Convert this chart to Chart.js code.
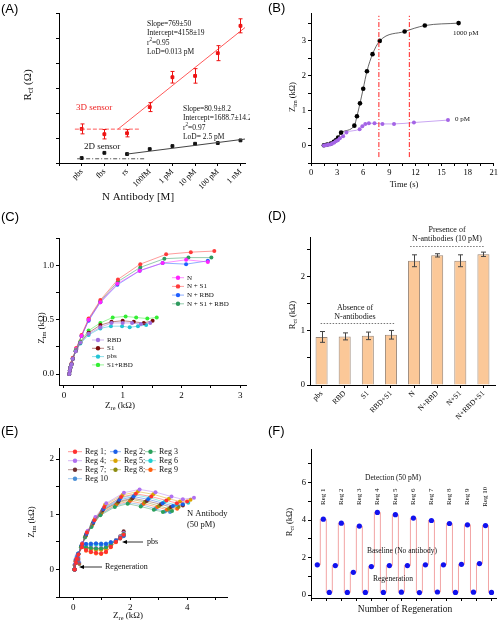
<!DOCTYPE html>
<html>
<head>
<meta charset="utf-8">
<script src="https://cdn.jsdelivr.net/npm/chart.js@4.4.0/dist/chart.umd.min.js"></script>
<style>
  html, body { margin: 0; padding: 0; background: #fff; }
  #wrap { position: relative; width: 500px; height: 623px; overflow: hidden; }
  canvas { position: absolute; }
</style>
</head>
<body>
<div id="wrap">
  <canvas id="cA" width="250" height="205" style="left:0;top:0"></canvas>
  <canvas id="cB" width="250" height="205" style="left:250px;top:0"></canvas>
  <canvas id="cC" width="250" height="205" style="left:0;top:205px"></canvas>
  <canvas id="cE" width="250" height="213" style="left:0;top:410px"></canvas>
  <canvas id="cF" width="250" height="213" style="left:250px;top:410px"></canvas>
  <canvas id="cD" width="250" height="220" style="left:250px;top:205px"></canvas>
</div>
<script>
// ---- (A) Rct vs N antibody concentration
const antibodyLabels = ['pbs', 'fbs', 'rs', '100fM', '1 pM', '10 pM', '100 pM', '1 nM'];
const rct3D = [2410, 2190, 2230, 3310, 4545, 4600, 5540, 6670];
const rct3DErr = [205, 195, 150, 185, 240, 300, 310, 290];
const rct2D = [1205, 1420, 1370, 1575, 1700, 1795, 1825, 1935];
const fit3D = [[1.6, 2400], [7.2, 6600]];
const fit2D = [[2.0, 1370], [7.2, 1990]];
const blank3D = [[-0.3, 2400], [2.55, 2400]];
const blank2D = [[-0.2, 1175], [2.8, 1175]];

// ---- (B) Zim vs time
const timeHigh = [1.48, 1.86, 2.28, 2.62, 2.85, 3.12, 3.46, 4.98, 5.28, 5.63, 6.0, 6.43, 7.07, 7.9, 10.76, 13.08, 16.96];
const zimHigh = [0.01, 0.03, 0.06, 0.11, 0.15, 0.23, 0.37, 0.57, 0.84, 1.21, 1.63, 2.13, 2.62, 3.0, 3.27, 3.44, 3.51];
const timeZero = [1.48, 1.71, 1.94, 2.17, 2.40, 2.62, 2.85, 3.08, 3.31, 3.69, 4.07, 5.59, 5.9, 6.24, 6.65, 7.3, 8.21, 9.54, 11.83, 15.74];
const zimZero = [0.0, 0.01, 0.02, 0.03, 0.05, 0.08, 0.12, 0.15, 0.21, 0.27, 0.375, 0.47, 0.55, 0.62, 0.64, 0.64, 0.62, 0.62, 0.66, 0.73];
const markerTimes = [7.8, 11.3];

// ---- (C) Nyquist, selectivity
const cN = [[0.09,0.00],[0.10,0.03],[0.11,0.06],[0.13,0.09],[0.15,0.14],[0.21,0.23],[0.30,0.35],[0.42,0.50],[0.62,0.66],[0.91,0.83],[1.29,0.95],[1.68,1.02],[2.08,1.05],[2.45,1.03]];
const cNS1 = [[0.09,0.00],[0.10,0.03],[0.11,0.06],[0.13,0.10],[0.15,0.15],[0.21,0.24],[0.30,0.36],[0.42,0.51],[0.62,0.68],[0.92,0.87],[1.30,1.01],[1.74,1.10],[2.16,1.12],[2.56,1.13]];
const cNRBD = [[0.09,0.00],[0.10,0.03],[0.11,0.06],[0.13,0.09],[0.15,0.14],[0.21,0.23],[0.30,0.35],[0.42,0.49],[0.62,0.66],[0.91,0.82],[1.29,0.95],[1.68,1.02],[2.08,1.01],[2.45,1.04]];
const cNS1RBD = [[0.09,0.00],[0.10,0.03],[0.11,0.06],[0.13,0.09],[0.15,0.14],[0.21,0.23],[0.30,0.35],[0.42,0.50],[0.62,0.67],[0.92,0.85],[1.30,0.98],[1.71,1.06],[2.12,1.07],[2.51,1.07]];
const cRBD = [[0.09,0.00],[0.10,0.03],[0.11,0.06],[0.13,0.09],[0.15,0.14],[0.20,0.21],[0.28,0.29],[0.42,0.37],[0.62,0.43],[0.81,0.47],[1.00,0.47],[1.16,0.47],[1.31,0.46],[1.47,0.47]];
const cS1 = [[0.09,0.00],[0.10,0.03],[0.11,0.06],[0.13,0.09],[0.15,0.14],[0.20,0.21],[0.28,0.29],[0.42,0.38],[0.62,0.45],[0.81,0.48],[1.00,0.49],[1.19,0.48],[1.36,0.47],[1.51,0.49]];
const cPbs = [[0.09,0.00],[0.10,0.03],[0.11,0.06],[0.13,0.09],[0.15,0.14],[0.20,0.21],[0.28,0.28],[0.42,0.36],[0.62,0.42],[0.80,0.44],[0.99,0.44],[1.12,0.43],[1.26,0.44],[1.40,0.45]];
const cS1RBD = [[0.09,0.00],[0.10,0.03],[0.11,0.06],[0.13,0.09],[0.15,0.14],[0.20,0.22],[0.28,0.30],[0.42,0.40],[0.62,0.47],[0.83,0.52],[1.05,0.53],[1.23,0.52],[1.42,0.51],[1.58,0.52]];
const cTopLabels = ['N', 'N + S1', 'N + RBD', 'N + S1 + RBD'];
const cLowLabels = ['RBD', 'S1', 'pbs', 'S1+RBD'];

// ---- (D) Rct bars
const samplesD = ['pbs', 'RBD', 'S1', 'RBD+S1', 'N', 'N+RBD', 'N+S1', 'N+RBD+S1'];
const rctD = [0.89, 0.90, 0.91, 0.93, 2.30, 2.40, 2.30, 2.42];
const rctDErr = [0.10, 0.065, 0.07, 0.08, 0.11, 0.03, 0.11, 0.04];

// ---- (E) regeneration Nyquist
const regNames = ['Reg 1', 'Reg 2', 'Reg 3', 'Reg 4', 'Reg 5', 'Reg 6', 'Reg 7', 'Reg 8', 'Reg 9', 'Reg 10'];
const antibodyCurves = [
  [[0.05,0],[0.12,0.19],[0.31,0.46],[0.48,0.67],[0.74,0.89],[1.09,1.13],[1.68,1.31],[2.20,1.37],[2.74,1.32],[3.27,1.25],[3.64,1.20],[4.00,1.23]],
  [[0.05,0],[0.12,0.18],[0.30,0.44],[0.46,0.64],[0.71,0.86],[1.05,1.09],[1.62,1.26],[2.12,1.32],[2.63,1.27],[3.14,1.20],[3.50,1.15],[3.85,1.18]],
  [[0.05,0],[0.11,0.16],[0.27,0.40],[0.41,0.58],[0.64,0.77],[0.95,0.98],[1.46,1.13],[1.91,1.19],[2.37,1.14],[2.83,1.08],[3.15,1.04],[3.47,1.06]],
  [[0.06,0],[0.13,0.20],[0.33,0.48],[0.51,0.70],[0.78,0.95],[1.16,1.20],[1.78,1.39],[2.33,1.45],[2.89,1.40],[3.45,1.32],[3.85,1.27],[4.24,1.30]],
  [[0.05,0],[0.13,0.19],[0.32,0.47],[0.49,0.68],[0.76,0.92],[1.12,1.17],[1.73,1.35],[2.27,1.41],[2.81,1.36],[3.36,1.28],[3.75,1.23],[4.12,1.26]],
  [[0.05,0],[0.12,0.18],[0.31,0.45],[0.47,0.65],[0.72,0.88],[1.07,1.11],[1.65,1.29],[2.16,1.35],[2.68,1.30],[3.20,1.22],[3.62,1.17],[4.04,1.21]],
  [[0.05,0],[0.12,0.18],[0.29,0.43],[0.45,0.63],[0.70,0.84],[1.03,1.07],[1.59,1.23],[2.08,1.29],[2.58,1.24],[3.08,1.18],[3.43,1.13],[3.85,1.16]],
  [[0.05,0],[0.12,0.17],[0.29,0.42],[0.44,0.61],[0.68,0.83],[1.01,1.05],[1.56,1.21],[2.04,1.27],[2.52,1.22],[3.01,1.15],[3.36,1.10],[3.70,1.13]],
  [[0.05,0],[0.11,0.17],[0.28,0.41],[0.43,0.60],[0.67,0.81],[0.99,1.02],[1.52,1.18],[1.99,1.24],[2.47,1.19],[2.95,1.13],[3.29,1.08],[3.65,1.10]],
  [[0.05,0],[0.11,0.17],[0.28,0.40],[0.42,0.59],[0.65,0.79],[0.97,1.00],[1.49,1.16],[1.95,1.21],[2.42,1.17],[2.89,1.10],[3.22,1.05],[3.40,1.04]]
];
const pbsX = [0.05, 0.10, 0.18, 0.30, 0.45, 0.62, 0.80, 0.98, 1.15, 1.32, 1.50, 1.65, 1.77];
const pbsCurves = [
  [0, 0.12, 0.27, 0.40, 0.35, 0.32, 0.30, 0.29, 0.32, 0.41, 0.50, 0.57, 0.63],
  [0, 0.13, 0.29, 0.44, 0.46, 0.46, 0.47, 0.46, 0.46, 0.49, 0.52, 0.57, 0.61],
  [0, 0.12, 0.28, 0.42, 0.40, 0.39, 0.38, 0.38, 0.40, 0.45, 0.52, 0.58, 0.64],
  [0, 0.12, 0.28, 0.43, 0.41, 0.40, 0.39, 0.39, 0.41, 0.46, 0.53, 0.59, 0.66],
  [0, 0.12, 0.28, 0.42, 0.38, 0.36, 0.35, 0.35, 0.37, 0.44, 0.52, 0.58, 0.64],
  [0, 0.13, 0.29, 0.44, 0.45, 0.44, 0.45, 0.44, 0.45, 0.48, 0.53, 0.58, 0.62],
  [0, 0.12, 0.28, 0.42, 0.39, 0.38, 0.37, 0.37, 0.39, 0.45, 0.53, 0.60, 0.69],
  [0, 0.12, 0.28, 0.42, 0.40, 0.38, 0.38, 0.37, 0.39, 0.45, 0.52, 0.58, 0.64],
  [0, 0.12, 0.27, 0.40, 0.34, 0.31, 0.29, 0.28, 0.31, 0.40, 0.49, 0.56, 0.62],
  [0, 0.13, 0.29, 0.45, 0.46, 0.47, 0.47, 0.47, 0.47, 0.49, 0.52, 0.56, 0.60]
];
const regenX = [0.02, 0.04, 0.07, 0.11, 0.15, 0.19, 0.22];
const regenCurves = [
  [0.00, 0.08, 0.15, 0.20, 0.22, 0.18, 0.10],
  [0.00, 0.09, 0.17, 0.23, 0.25, 0.21, 0.12],
  [0.00, 0.07, 0.14, 0.19, 0.21, 0.17, 0.09],
  [0.00, 0.10, 0.19, 0.26, 0.28, 0.24, 0.14],
  [0.00, 0.08, 0.16, 0.21, 0.23, 0.19, 0.11],
  [0.00, 0.09, 0.18, 0.24, 0.26, 0.22, 0.13],
  [0.00, 0.08, 0.15, 0.20, 0.22, 0.18, 0.10],
  [0.00, 0.07, 0.14, 0.19, 0.20, 0.17, 0.09],
  [0.00, 0.08, 0.16, 0.22, 0.24, 0.20, 0.11],
  [0.00, 0.09, 0.17, 0.22, 0.24, 0.20, 0.12]
];

// ---- (F) Rct over regeneration cycles
const baselineF = [1.61, 1.57, 1.21, 1.52, 1.57, 1.57, 1.61, 1.61, 1.64, 1.68];
const detectionF = [4.05, 3.84, 3.68, 4.41, 4.29, 4.11, 3.98, 3.82, 3.75, 3.71];
const regenF = [0.14, 0.14, 0.14, 0.14, 0.15, 0.13, 0.16, 0.14, 0.15, 0.14];

const SERIF = '"Liberation Serif", "Times New Roman", serif';
const SANS = '"Liberation Sans", Arial, sans-serif';
const regColors = ['#ff3030', '#1a5fe8', '#2aa05a', '#b070f0', '#d9a300', '#1fcfcf', '#6e2e2e', '#8c8c10', '#ff6010', '#4a8fd6'];

function fade(hex, a) {
  const n = parseInt(hex.slice(1), 16);
  return `rgba(${n >> 16},${(n >> 8) & 255},${n & 255},${a})`;
}
const pairs = arr => arr.map(p => ({ x: p[0], y: p[1] }));

// text with _{sub} and ^{sup}
function txt(ctx, str, x, y, size, o = {}) {
  const parts = [];
  const re = /([_^])\{([^}]*)\}/g;
  let last = 0, m;
  while ((m = re.exec(str))) {
    if (m.index > last) parts.push({ t: str.slice(last, m.index), k: '' });
    parts.push({ t: m[2], k: m[1] });
    last = re.lastIndex;
  }
  if (last < str.length) parts.push({ t: str.slice(last), k: '' });
  const fam = o.family || SERIF;
  const fnt = k => `${k ? size * 0.7 : size}px ${fam}`;
  let w = 0;
  parts.forEach(p => { ctx.font = fnt(p.k); p.w = ctx.measureText(p.t).width; w += p.w; });
  ctx.save();
  ctx.translate(x, y);
  if (o.rot) ctx.rotate(o.rot);
  ctx.fillStyle = o.color || '#111';
  ctx.textBaseline = 'middle';
  ctx.textAlign = 'left';
  let cx = o.align === 'center' ? -w / 2 : o.align === 'right' ? -w : 0;
  parts.forEach(p => {
    ctx.font = fnt(p.k);
    const dy = p.k === '_' ? size * 0.3 : p.k === '^' ? -size * 0.35 : 0;
    ctx.fillText(p.t, cx, dy);
    cx += p.w;
  });
  ctx.restore();
}

function panel(ctx, label, x, y) {
  ctx.save();
  ctx.font = `13px ${SANS}`;
  ctx.fillStyle = '#000';
  ctx.textBaseline = 'alphabetic';
  ctx.fillText(label, x, y);
  ctx.restore();
}

function errorBars(chart, di, errs, color, cap) {
  const ctx = chart.ctx, ys = chart.scales.y;
  const vals = chart.data.datasets[di].data;
  ctx.save();
  ctx.strokeStyle = color;
  ctx.lineWidth = 1;
  chart.getDatasetMeta(di).data.forEach((pt, i) => {
    const v = typeof vals[i] === 'object' ? vals[i].y : vals[i];
    const t = ys.getPixelForValue(v + errs[i]), b = ys.getPixelForValue(v - errs[i]);
    const px = Math.round(pt.x) + 0.5;
    ctx.beginPath();
    ctx.moveTo(px, t); ctx.lineTo(px, b);
    ctx.moveTo(px - cap, t); ctx.lineTo(px + cap, t);
    ctx.moveTo(px - cap, b); ctx.lineTo(px + cap, b);
    ctx.stroke();
  });
  ctx.restore();
}

function legendItem(ctx, x1, x2, y, color, label, size) {
  ctx.save();
  ctx.strokeStyle = fade(color, 0.5);
  ctx.lineWidth = 1;
  ctx.beginPath(); ctx.moveTo(x1, y); ctx.lineTo(x2, y); ctx.stroke();
  ctx.fillStyle = color;
  ctx.beginPath(); ctx.arc((x1 + x2) / 2, y, 2.2, 0, Math.PI * 2); ctx.fill();
  ctx.restore();
  txt(ctx, label, x2 + 3, y, size);
}

function arrowLeft(ctx, x1, x2, y) {
  ctx.save();
  ctx.strokeStyle = '#000'; ctx.fillStyle = '#000'; ctx.lineWidth = 0.8;
  ctx.beginPath(); ctx.moveTo(x1 + 3, y); ctx.lineTo(x2, y); ctx.stroke();
  ctx.beginPath(); ctx.moveTo(x1, y); ctx.lineTo(x1 + 5, y - 2); ctx.lineTo(x1 + 5, y + 2); ctx.closePath(); ctx.fill();
  ctx.restore();
}

function mkAxis(o) {
  return {
    type: o.type || 'linear',
    min: o.min, max: o.max,
    offset: !!o.offset,
    grid: { drawOnChartArea: false, drawTicks: true, tickLength: 3, color: '#000', offset: false },
    border: { color: '#000', width: 1 },
    ticks: {
      color: '#000', font: { family: SERIF, size: o.size || 9 }, padding: o.pad == null ? 2 : o.pad,
      stepSize: o.step, includeBounds: false, autoSkip: false,
      maxRotation: o.rot || 0, minRotation: o.rot || 0,
      callback: o.cb
    },
    afterFit: o.fit,
    afterBuildTicks: o.abt
  };
}

function baseOptions(pad, x, y) {
  return {
    responsive: false, animation: false, events: [],
    layout: { padding: pad },
    plugins: { legend: { display: false }, tooltip: { enabled: false } },
    scales: { x, y }
  };
}

const near = (v, s) => Math.abs(v / s - Math.round(v / s)) < 1e-6;

// ================= (A)
new Chart(document.getElementById('cA'), {
  type: 'scatter',
  data: {
    datasets: [
      { data: pairs(fit3D), showLine: true, borderColor: '#ff5a5a', borderWidth: 1, pointRadius: 0 },
      { data: pairs(fit2D), showLine: true, borderColor: '#444', borderWidth: 1, pointRadius: 0 },
      { data: pairs(blank3D), showLine: true, borderColor: '#ff5a5a', borderWidth: 1, borderDash: [4, 2], pointRadius: 0 },
      { data: pairs(blank2D), showLine: true, borderColor: '#555', borderWidth: 1, borderDash: [4, 2, 1, 2], pointRadius: 0 },
      { data: rct3D.map((v, i) => ({ x: i, y: v })), pointStyle: 'rect', pointRadius: 2, backgroundColor: '#ee1111', borderColor: '#ee1111' },
      { data: rct2D.map((v, i) => ({ x: i, y: v })), pointStyle: 'rect', pointRadius: 2, backgroundColor: '#111', borderColor: '#111' }
    ]
  },
  options: baseOptions({ top: 13, right: 0, left: 0, bottom: 0 },
    mkAxis({ min: -1, max: 7.2, step: 1, size: 8, rot: 45, pad: 1, cb: v => antibodyLabels[v] ?? '', fit: s => { s.height = 42; } }),
    mkAxis({ min: 1000, max: 7200, step: 1000, size: 9.5, cb: v => (v >= 2000 && near(v, 2000)) ? String(v) : '', fit: s => { s.width = 59; } })
  ),
  plugins: [{
    id: 'decoA',
    afterDraw(chart) {
      const ctx = chart.ctx;
      errorBars(chart, 4, rct3DErr, '#ee1111', 2);
      panel(ctx, '(A)', 1, 13);
      txt(ctx, 'R_{ct} (Ω)', 28, 85, 11, { rot: -Math.PI / 2, align: 'center' });
      txt(ctx, 'N Antibody [M]', 138, 197, 11, { align: 'center' });
      ['Slope=769±50', 'Intercept=4158±19', 'r^{2}=0.95', 'LoD=0.013 pM'].forEach((s, i) => txt(ctx, s, 147, 24 + i * 9.3, 7.5));
      ['Slope=80.9±8.2', 'Intercept=1688.7±14.2', 'r^{2}=0.97', 'LoD= 2.5 pM'].forEach((s, i) => txt(ctx, s, 183, 109 + i * 9.3, 7.5));
      txt(ctx, '3D sensor', 76, 108, 9, { color: '#ee2222' });
      txt(ctx, '2D sensor', 84, 147, 9);
    }
  }]
});

// ================= (B)
new Chart(document.getElementById('cB'), {
  type: 'scatter',
  data: {
    datasets: [
      ...markerTimes.map(t => ({ data: [{ x: t, y: -0.33 }, { x: t, y: 3.72 }], showLine: true, borderColor: '#ff2020', borderWidth: 1, borderDash: [5, 2, 1, 2], pointRadius: 0 })),
      { data: timeZero.map((t, i) => ({ x: t, y: zimZero[i] })), showLine: true, cubicInterpolationMode: 'monotone', borderColor: '#c9a6f2', borderWidth: 1, pointRadius: 2, pointBackgroundColor: '#a464e6', pointBorderWidth: 0 },
      { data: timeHigh.map((t, i) => ({ x: t, y: zimHigh[i] })), showLine: true, cubicInterpolationMode: 'monotone', borderColor: '#555', borderWidth: 0.9, pointRadius: 2.3, pointBackgroundColor: '#000', pointBorderWidth: 0 }
    ]
  },
  options: baseOptions({ top: 13, right: 4, left: 0, bottom: 0 },
    mkAxis({ min: 0, max: 21, step: 1.5, size: 8.5, cb: v => near(v, 3) ? String(v) : '', fit: s => { s.height = 42; } }),
    mkAxis({ min: -0.5, max: 3.8, step: 0.5, size: 8.5, cb: v => near(v, 1) ? String(v) : '', fit: s => { s.width = 61; } })
  ),
  plugins: [{
    id: 'decoB',
    afterDraw(chart) {
      const ctx = chart.ctx;
      panel(ctx, '(B)', 18, 12);
      txt(ctx, 'Z_{im} (kΩ)', 43, 97, 8.5, { rot: -Math.PI / 2, align: 'center' });
      txt(ctx, 'Time (s)', 154, 185, 8.5, { align: 'center' });
      txt(ctx, '1000 pM', 203, 33, 7);
      txt(ctx, '0 pM', 205, 119, 7);
    }
  }]
});

// ================= (C)
const cTop = [[cN, '#ff22ff'], [cNS1, '#ff3a3a'], [cNRBD, '#1f5fff'], [cNS1RBD, '#2e9a5e']];
const cLow = [[cRBD, '#a070e0'], [cS1, '#7a0a0a'], [cPbs, '#22c4d4'], [cS1RBD, '#33ee33']];
new Chart(document.getElementById('cC'), {
  type: 'scatter',
  data: {
    datasets: [...cLow, ...cTop].map(([d, c]) => ({
      data: pairs(d), showLine: true, borderColor: fade(c, 0.5), borderWidth: 1,
      pointRadius: 2, pointBackgroundColor: c, pointBorderWidth: 0
    }))
  },
  options: baseOptions({ top: 33, right: 1, left: 0, bottom: 0 },
    mkAxis({ min: -0.084, max: 3.1, step: 0.5, size: 9, cb: v => near(v, 1) ? String(v) : '', fit: s => { s.height = 25; } }),
    mkAxis({ min: -0.1, max: 1.25, step: 0.25, size: 9, cb: v => near(v, 0.5) ? v.toFixed(1) : '', fit: s => { s.width = 59; } })
  ),
  plugins: [{
    id: 'decoC',
    afterDraw(chart) {
      const ctx = chart.ctx;
      panel(ctx, '(C)', 1, 16);
      txt(ctx, 'Z_{im} (kΩ)', 42, 123, 9, { rot: -Math.PI / 2, align: 'center' });
      txt(ctx, 'Z_{re} (kΩ)', 120, 201, 9, { align: 'center' });
      cTopLabels.forEach((l, i) => legendItem(ctx, 172, 184, 72.7 + i * 8.7, cTop[i][1], l, 7));
      cLowLabels.forEach((l, i) => legendItem(ctx, 92, 104, 135 + i * 8.3, cLow[i][1], l, 7));
    }
  }]
});

// ================= (D)
new Chart(document.getElementById('cD'), {
  type: 'bar',
  data: {
    labels: samplesD,
    datasets: [{ data: rctD, backgroundColor: '#fbc898', borderColor: '#9a8676', borderWidth: 1, barPercentage: 0.52, categoryPercentage: 1 }]
  },
  options: baseOptions({ top: 32, right: 5, left: 0, bottom: 0 },
    mkAxis({ type: 'category', offset: true, size: 7.5, rot: 45, pad: 1, cb: (v, i) => samplesD[i], fit: s => { s.height = 40; } }),
    mkAxis({ min: 0, max: 2.74, step: 0.5, size: 8.5, cb: v => near(v, 1) ? String(v) : '', fit: s => { s.width = 60; } })
  ),
  plugins: [{
    id: 'decoD',
    afterDraw(chart) {
      const ctx = chart.ctx, xs = chart.scales.x, ys = chart.scales.y;
      errorBars(chart, 0, rctDErr, '#444', 2.5);
      panel(ctx, '(D)', 18, 15);
      txt(ctx, 'R_{ct} (kΩ)', 43, 110, 8.5, { rot: -Math.PI / 2, align: 'center' });
      ctx.save();
      ctx.strokeStyle = '#777'; ctx.lineWidth = 1; ctx.setLineDash([1.5, 1.5]);
      [[-0.04, 3.17, 1.155], [3.83, 7.07, 2.57]].forEach(([a, b, v]) => {
        const y = Math.round(ys.getPixelForValue(v)) + 0.5;
        ctx.beginPath(); ctx.moveTo(xs.getPixelForValue(a), y); ctx.lineTo(xs.getPixelForValue(b), y); ctx.stroke();
      });
      ctx.restore();
      txt(ctx, 'Absence of', 105, 103, 8, { align: 'center' });
      txt(ctx, 'N-antibodies', 105, 111.5, 8, { align: 'center' });
      txt(ctx, 'Presence of', 197, 25, 8, { align: 'center' });
      txt(ctx, 'N-antibodies (10 pM)', 197, 33.5, 8, { align: 'center' });
    }
  }]
});

// ================= (E)
const eSets = [];
regNames.forEach((n, i) => {
  const c = regColors[i];
  const style = { showLine: true, borderColor: fade(c, 0.45), borderWidth: 1, pointRadius: 2, pointBackgroundColor: c, pointBorderWidth: 0 };
  eSets.push(Object.assign({ data: pairs(antibodyCurves[i]) }, style));
  eSets.push(Object.assign({ data: pbsX.map((x, j) => ({ x, y: pbsCurves[i][j] })) }, style));
  eSets.push(Object.assign({ data: regenX.map((x, j) => ({ x, y: regenCurves[i][j] })) }, style, { pointRadius: 1.6, pointBackgroundColor: fade(c, 0.5) }));
});
new Chart(document.getElementById('cE'), {
  type: 'scatter',
  data: { datasets: eSets },
  options: baseOptions({ top: 38, right: 23, left: 0, bottom: 0 },
    mkAxis({ min: -0.5, max: 5.4, step: 1, size: 9, cb: v => (v >= 0 && near(v, 2)) ? String(v) : '', fit: s => { s.height = 26; } }),
    mkAxis({ min: -0.5, max: 2.2, step: 0.5, size: 9, cb: v => near(v, 1) ? String(v) : '', fit: s => { s.width = 59; } })
  ),
  plugins: [{
    id: 'decoE',
    afterDraw(chart) {
      const ctx = chart.ctx;
      panel(ctx, '(E)', 1, 25);
      txt(ctx, 'Z_{im} (kΩ)', 32, 112, 9, { rot: -Math.PI / 2, align: 'center' });
      txt(ctx, 'Z_{re} (kΩ)', 128, 206, 9, { align: 'center' });
      const cols = [[68, 82], [110, 121], [145, 156]];
      regNames.forEach((n, i) => {
        const r = Math.floor(i / 3), c = i % 3;
        const label = (c < 2 && i < 9) ? n + ';' : n;
        legendItem(ctx, cols[c][0], cols[c][1], 41.7 + r * 9, regColors[i], label, 8);
      });
      txt(ctx, 'N Antibody', 187, 104, 8.5);
      txt(ctx, '(50 pM)', 187, 115, 8.5);
      txt(ctx, 'pbs', 147, 132, 8);
      arrowLeft(ctx, 122, 143, 132);
      txt(ctx, 'Regeneration', 105, 157, 8);
      arrowLeft(ctx, 79, 102, 157);
    }
  }]
});

// ================= (F)
const fSeq = [];
baselineF.forEach((b, k) => {
  fSeq.push({ x: 3 * k, y: b }, { x: 3 * k + 1, y: detectionF[k] }, { x: 3 * k + 2, y: regenF[k] });
});
new Chart(document.getElementById('cF'), {
  type: 'scatter',
  data: {
    datasets: [{ data: fSeq, showLine: true, stepped: 'middle', borderColor: '#f2a4a4', borderWidth: 1, pointRadius: 2.6, pointBackgroundColor: '#1212ee', pointBorderWidth: 0 }]
  },
  options: baseOptions({ top: 39, right: 3, left: 0, bottom: 0 },
    mkAxis({ min: -1.05, max: 29.75, size: 8.5, cb: () => '', fit: s => { s.height = 25; },
      abt: s => { s.ticks = []; for (let v = -1.05; v <= 29.8; v += 2.5) s.ticks.push({ value: v }); } }),
    mkAxis({ min: -0.16, max: 7.8, step: 1, size: 8.5, cb: v => near(v, 2) ? String(v) : '', fit: s => { s.width = 61; } })
  ),
  plugins: [{
    id: 'decoF',
    afterDraw(chart) {
      const ctx = chart.ctx, xs = chart.scales.x, ys = chart.scales.y;
      panel(ctx, '(F)', 18, 25);
      txt(ctx, 'R_{ct} (kΩ)', 40, 112, 8.5, { rot: -Math.PI / 2, align: 'center' });
      txt(ctx, 'Number of Regeneration', 155, 199, 9.5, { align: 'center' });
      txt(ctx, 'Detection (50 pM)', 143, 68, 7.5, { align: 'center' });
      regNames.forEach((n, k) => txt(ctx, n, xs.getPixelForValue(3 * k + 1), ys.getPixelForValue(5.25), 7, { rot: -Math.PI / 2, align: 'center' }));
      txt(ctx, 'Baseline (No antibody)', 152, 141, 7.5, { align: 'center' });
      txt(ctx, 'Regeneration', 143, 169, 7.5, { align: 'center' });
    }
  }]
});
</script>
</body>
</html>
